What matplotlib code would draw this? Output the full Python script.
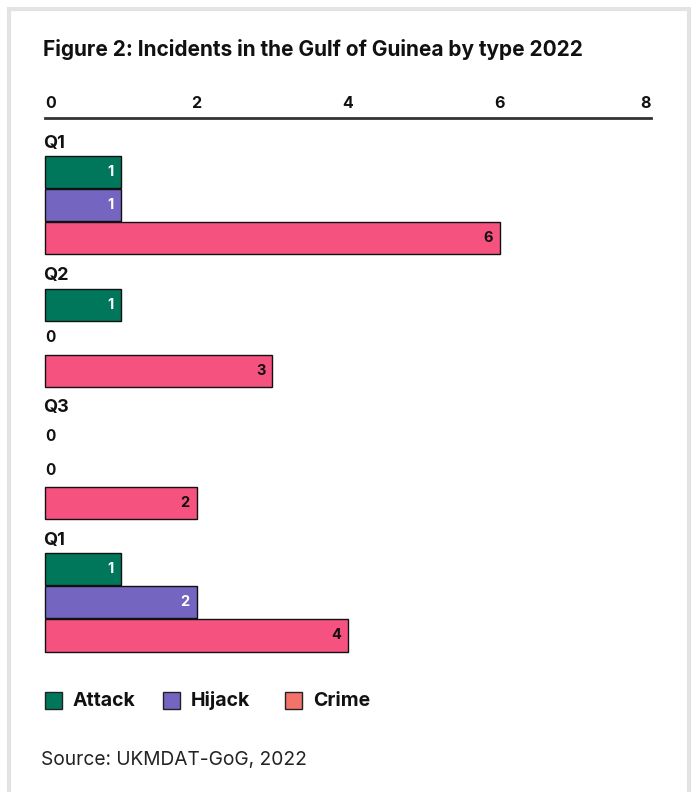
import matplotlib.pyplot as plt
from matplotlib.patches import Rectangle

# Incidents in the Gulf of Guinea by type, 2022
quarters = ['Q1', 'Q2', 'Q3', 'Q1']
attack = [1, 1, 0, 1]
hijack = [1, 0, 0, 2]
crime = [6, 3, 2, 4]
series = ['Attack', 'Hijack', 'Crime']
bar_colors = ['#00775A', '#7466C0', '#F5527F']
legend_colors = ['#00775A', '#7466C0', '#F3736B']
text_colors = ['white', 'white', '#111111']

plt.rcParams['font.family'] = ['Inter', 'DejaVu Sans']

fig = plt.figure(figsize=(6.94, 7.92), dpi=100)
fig.patch.set_facecolor('white')

# card border
fig.patches.append(Rectangle((9 / 694, -0.05), 680 / 694, 1.05 - 9 / 792,
                             transform=fig.transFigure, fill=False,
                             edgecolor='#e3e3e3', linewidth=3))

ax = fig.add_axes([45 / 694, 1 - 652 / 792, 606 / 694, 534 / 792])

for g, q in enumerate(quarters):
    base = 4 * g
    ax.text(-0.02, base + 0.12, q, ha='left', va='center', fontsize=13,
            fontweight='bold', color='#111111')
    for k, vals in enumerate([attack, hijack, crime]):
        v = vals[g]
        y = base + 1 + k
        if v > 0:
            bars = ax.barh(y, v, height=0.97, color=bar_colors[k], edgecolor='#111111',
                           linewidth=1)
            for b in bars:
                b.set_clip_on(False)
            ax.text(v - 0.09, y, str(v), ha='right', va='center', fontsize=10.5,
                    fontweight='bold', color=text_colors[k])
        else:
            ax.text(0.0, y, '0', ha='left', va='center', fontsize=11,
                    fontweight='bold', color='#111111')

ax.set_xlim(0, 8)
ax.set_ylim(15.5, -0.64)
ax.xaxis.tick_top()
ax.set_xticks([0, 2, 4, 6, 8])
ax.set_xticklabels(['0', '2', '4', '6', '8'])
ax.tick_params(axis='x', length=0, pad=5, labelsize=11.5)
for lbl, ha in zip(ax.get_xticklabels(), ['left', 'center', 'center', 'center', 'right']):
    lbl.set_ha(ha)
    lbl.set_fontweight('bold')
    lbl.set_color('#111111')
ax.set_yticks([])
for s in ['left', 'right', 'bottom']:
    ax.spines[s].set_visible(False)
ax.spines['top'].set_color('#333333')
ax.spines['top'].set_linewidth(2)

fig.text(43 / 694, 1 - 49 / 792, 'Figure 2: Incidents in the Gulf of Guinea by type 2022',
         ha='left', va='center', fontsize=15, fontweight='bold', color='#111111')

# legend
leg_x = [45, 163, 285]
for k, name in enumerate(series):
    fig.patches.append(Rectangle((leg_x[k] / 694, 1 - 709 / 792), 17 / 694, 17 / 792,
                                 transform=fig.transFigure, facecolor=legend_colors[k],
                                 edgecolor='#222222', linewidth=1))
    fig.text((leg_x[k] + 28) / 694, 1 - 701 / 792, name, ha='left', va='center',
             fontsize=14, fontweight='bold', color='#111111')

fig.text(41 / 694, 1 - 760 / 792, 'Source: UKMDAT-GoG, 2022', ha='left', va='center',
         fontsize=13.8, color='#222222')

fig.savefig('out.png', dpi=100)
